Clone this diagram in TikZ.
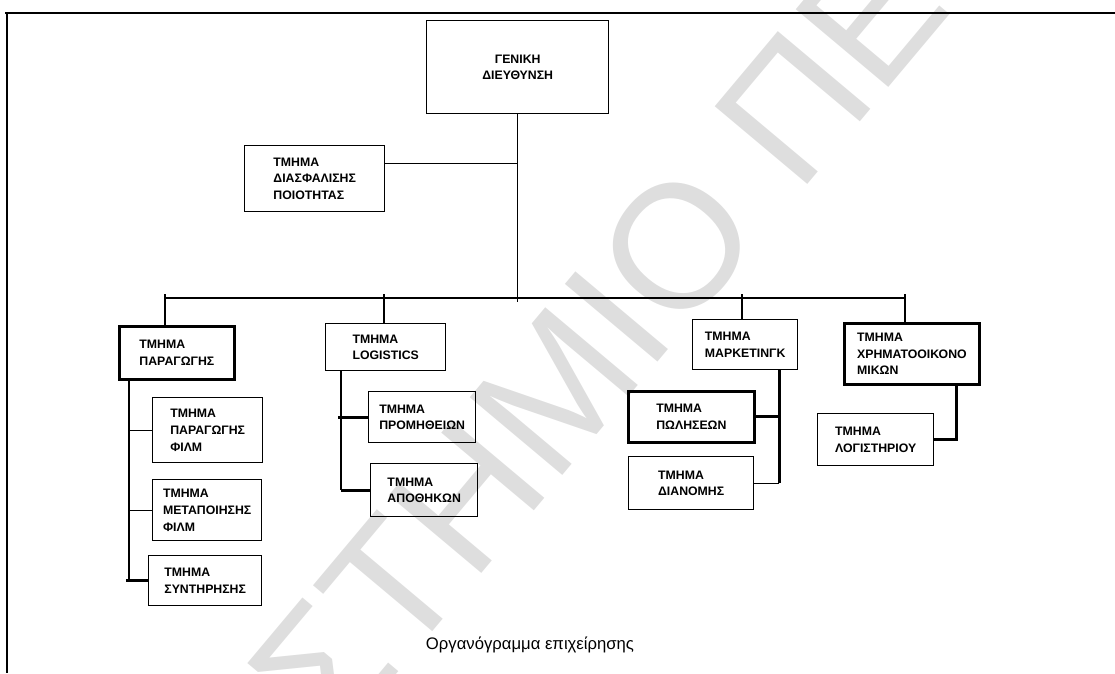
\documentclass[tikz,border=0pt]{standalone}
\usepackage{fontspec}
\setmainfont{Liberation Sans}
\usetikzlibrary{positioning, calc}
\definecolor{wmgray}{RGB}{222,222,222}
\tikzset{
  bx/.style={draw=black, minimum width=#1, align=left, inner sep=2pt,
             font=\fontsize{7}{9.5}\selectfont\bfseries, line width=0.8pt,
             anchor=north west},
  bxT/.style={bx=#1, line width=1.6pt},
  ln/.style={line width=0.6pt},
  lnT/.style={line width=1.7pt},
}

\begin{document}
\begin{tikzpicture}[x=0.02cm, y=-0.02cm,
        wm/.style={rotate=50, text=wmgray, inner sep=0pt,
                   font=\fontsize{100}{100}\selectfont}]
      \useasboundingbox (0,0) rectangle (1115,673);
      \node[wm] (mark0) at (598,340) {ΣΤΗΜΙΟ ΠΕ};
      % page frame
      \draw[lnT] (5,13) -- (1115,13);
      \draw[ln] (7,13) -- (7,673);
      \node[bx=3.64cm, minimum height=1.86cm, align=center] (gen) at (426,20) {ΓΕΝΙΚΗ\\ΔΙΕΥΘΥΝΣΗ};
      \node[bx=2.8cm, minimum height=1.32cm] (qa) at (244,145) {ΤΜΗΜΑ\\ΔΙΑΣΦΑΛΙΣΗΣ\\ΠΟΙΟΤΗΤΑΣ};
      \node[bxT=2.3cm, minimum height=1.06cm] (par) at (118,325) {ΤΜΗΜΑ\\ΠΑΡΑΓΩΓΗΣ};
      \node[bx=2.2cm, minimum height=1.3cm] (film) at (152,397) {ΤΜΗΜΑ\\ΠΑΡΑΓΩΓΗΣ\\ΦΙΛΜ};
      \node[bx=2.18cm, minimum height=1.22cm] (metap) at (152,479) {ΤΜΗΜΑ\\ΜΕΤΑΠΟΙΗΣΗΣ\\ΦΙΛΜ};
      \node[bx=2.26cm, minimum height=1.0cm] (synt) at (148,555) {ΤΜΗΜΑ\\ΣΥΝΤΗΡΗΣΗΣ};
      \node[bx=2.4cm, minimum height=0.94cm] (logi) at (325,323) {ΤΜΗΜΑ\\LOGISTICS};
      \node[bx=2.14cm, minimum height=1.02cm] (prom) at (368,391) {ΤΜΗΜΑ\\ΠΡΟΜΗΘΕΙΩΝ};
      \node[bx=2.14cm, minimum height=1.06cm] (apoth) at (370,463) {ΤΜΗΜΑ\\ΑΠΟΘΗΚΩΝ};
      \node[bx=2.1cm, minimum height=1.0cm] (mrkt) at (692,319) {ΤΜΗΜΑ\\ΜΑΡΚΕΤΙΝΓΚ};
      \node[bxT=2.52cm, minimum height=1.02cm] (pol) at (627,390) {ΤΜΗΜΑ\\ΠΩΛΗΣΕΩΝ};
      \node[bx=2.5cm, minimum height=1.06cm] (dian) at (628,456) {ΤΜΗΜΑ\\ΔΙΑΝΟΜΗΣ};
      \node[bxT=2.7cm, minimum height=1.22cm] (fin) at (843,322) {ΤΜΗΜΑ\\ΧΡΗΜΑΤΟΟΙΚΟΝΟ\\ΜΙΚΩΝ};
      \node[bx=2.32cm, minimum height=1.04cm] (acc) at (817,413) {ΤΜΗΜΑ\\ΛΟΓΙΣΤΗΡΙΟΥ};
      % main bus
      \coordinate (b1) at (165,298);
      \coordinate (b2) at (384,298);
      \coordinate (b3) at (742,298);
      \coordinate (b4) at (905,298);
      \draw[ln] (gen.south) -- ($(gen.south |- b1)+(0,4)$);
      \draw[ln] (b1) -- (b4);
      \coordinate (qe) at ($(qa.north east)!0.27!(qa.south east)$);
      \draw[ln] (qe) -- (qe -| gen.south);
      \foreach \bb/\nn in {b1/par, b2/logi, b3/mrkt, b4/fin}
        \draw[ln] ($(\bb)+(0,-4)$) -- (\bb |- \nn.north);
      % sub branches
      \coordinate (pv) at ($(par.south west)+(11,0)$);
      \draw[lnT] (pv) -- (pv |- synt.west);
      \draw[ln] (pv |- film.west) -- (film.west);
      \draw[ln] (pv |- metap.west) -- (metap.west);
      \draw[lnT] ($(pv |- synt.west)+(-3,0)$) -- (synt.west);
      \coordinate (lv) at ($(logi.south west)+(16,0)$);
      \draw[ln] (lv) -- (lv |- apoth.west);
      \draw[lnT] ($(lv |- prom.west)+(-3,0)$) -- (prom.west);
      \draw[lnT] (lv |- apoth.west) -- (apoth.west);
      \coordinate (mv) at ($(mrkt.south east)+(-19,0)$);
      \draw[lnT] (mv) -- (mv |- dian.east);
      \draw[lnT] (mv |- pol.east) -- (pol.east);
      \draw[ln] (mv |- dian.east) -- (dian.east);
      \coordinate (fv) at ($(fin.south east)+(-24,0)$);
      \draw[lnT] (fv) |- (acc.east);
      \node[font=\fontsize{9.5}{11}\selectfont] (cap) at (530,645) {Οργανόγραμμα επιχείρησης};
    \end{tikzpicture}
\end{document}
